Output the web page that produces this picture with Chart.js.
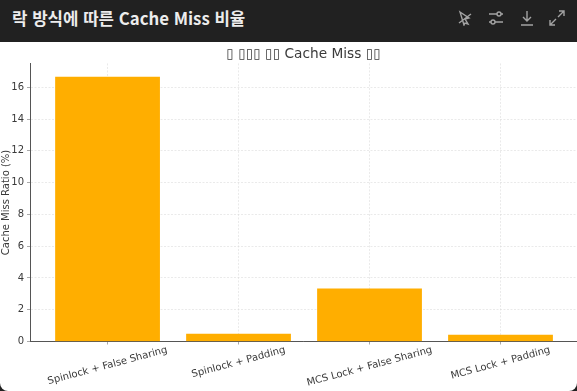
<!DOCTYPE html>
<html lang="ko">
<head>
<meta charset="utf-8">
<title>락 방식에 따른 Cache Miss 비율</title>
<script src="https://cdn.jsdelivr.net/npm/chart.js@4"></script>
<style>
  html, body { margin: 0; padding: 0; width: 577px; height: 391px; overflow: hidden; background: #212121; }
  .bar { position: absolute; left: 0; top: 0; width: 577px; height: 42px; background: #212121; }
  .bar h1 { position: absolute; left: 12px; top: 7px; margin: 0; font: 700 16.8px "Noto Sans CJK KR", "Noto Sans", sans-serif; line-height: 22px; color: #ececec; white-space: nowrap; }
  .bar svg { position: absolute; top: 10px; width: 16px; height: 16px; fill: none; stroke: #a3a3a3; stroke-width: 1.4; }
  .panel { position: absolute; left: 0; top: 42px; width: 577px; height: 349px; background: #fff; border-radius: 0 0 8px 8px; overflow: hidden; }
</style>
</head>
<body>
<div class="bar">
  <h1>락 방식에 따른 Cache Miss 비율</h1>
  <svg style="left:457px" viewBox="0 0 16 16"><path d="M3 2l9 6-4 1 3 5-3-1-1 2-4-13zM2 13L14 4"/></svg>
  <svg style="left:488px" viewBox="0 0 16 16"><path d="M1 4h8M13 4h2M1 12h2M7 12h8"/><circle cx="11" cy="4" r="2"/><circle cx="5" cy="12" r="2"/></svg>
  <svg style="left:519px" viewBox="0 0 16 16"><path d="M8 1v10M4 7l4 4 4-4M2 15h12"/></svg>
  <svg style="left:549px" viewBox="0 0 16 16"><path d="M9 7l6-6M10 1h5v5M7 9l-6 6M1 10v5h5"/></svg>
</div>
<div class="panel"><canvas id="missChart" width="577" height="349"></canvas></div>

<script>
/* ======================================================
   DATA
====================================================== */

const categories = [
  "Spinlock + False Sharing",
  "Spinlock + Padding",
  "MCS Lock + False Sharing",
  "MCS Lock + Padding"
];
const missRatio = [16.67, 0.48, 3.33, 0.42];
const yTicks = [0, 2, 4, 6, 8, 10, 12, 14, 16];

const chartTitle = "▯ ▯▯▯ ▯▯ Cache Miss ▯▯";
const yTitle = "Cache Miss Ratio (%)";

/* ======================================================
   CONFIG
====================================================== */

const FONT = '"DejaVu Sans", sans-serif';
const TEXT = "#3a3a3a";
const AXIS = "#555555";
const GRID = "#d4d4d4";

/* ======================================================
   HELPERS
====================================================== */

// Chart.js right-aligns rotated labels, the original has them centred on the tick
const centredLabels = {
  id: "centredLabels",
  afterDraw(chart) {
    const { ctx, scales: { x } } = chart;
    const angle = 15 * Math.PI / 180;
    ctx.save();
    ctx.font = "10px " + FONT;
    ctx.fillStyle = TEXT;
    ctx.textAlign = "center";
    ctx.textBaseline = "middle";
    categories.forEach((label, i) => {
      const w = ctx.measureText(label).width;
      const boxH = w * Math.sin(angle) + 11 * Math.cos(angle);
      ctx.save();
      ctx.translate(x.getPixelForValue(i), x.top + 3 + boxH / 2);
      ctx.rotate(-angle);
      ctx.fillText(label, 0, 0);
      ctx.restore();
    });
    ctx.restore();
  }
};

/* ======================================================
   CHART
====================================================== */

new Chart(document.getElementById("missChart"), {
  type: "bar",
  data: {
    datasets: [{
      data: categories.map((c, i) => ({ x: i, y: missRatio[i] })),
      backgroundColor: "rgba(255,174,0,1)",
      borderWidth: 0,
      barPercentage: 0.8,
      categoryPercentage: 1
    }]
  },
  options: {
    responsive: false,
    animation: false,
    layout: { padding: 0 },
    plugins: {
      legend: { display: false },
      tooltip: { enabled: false },
      title: {
        display: true,
        fullSize: false,
        text: chartTitle,
        color: TEXT,
        font: { family: FONT, size: 13.7, weight: "normal" },
        padding: { top: 4, bottom: 1 }
      }
    },
    scales: {
      x: {
        type: "linear",
        offset: false,
        min: -0.592,
        max: 3.584,
        afterBuildTicks: axis => { axis.ticks = categories.map((c, i) => ({ value: i })); },
        afterFit: axis => { axis.height = 49.5; },
        ticks: { display: false },
        grid: {
          offset: false, color: GRID, lineWidth: 0.5, tickColor: AXIS, tickLength: 3
        },
        border: { color: AXIS, width: 1, dash: [2, 1.5] }
      },
      y: {
        min: 0,
        max: 17.5,
        afterBuildTicks: axis => { axis.ticks = yTicks.map(v => ({ value: v })); },
        afterFit: axis => { axis.width = 30; },
        ticks: {
          color: TEXT, padding: 3, autoSkip: false,
          font: { family: FONT, size: 10 }
        },
        title: {
          display: true,
          text: yTitle,
          color: TEXT,
          padding: 0,
          font: { family: FONT, size: 10 }
        },
        grid: {
          color: GRID, lineWidth: 0.5, tickColor: AXIS, tickLength: 3
        },
        border: { color: AXIS, width: 1, dash: [2, 1.5] }
      }
    }
  },
  plugins: [centredLabels]
});
</script>
</body>
</html>
